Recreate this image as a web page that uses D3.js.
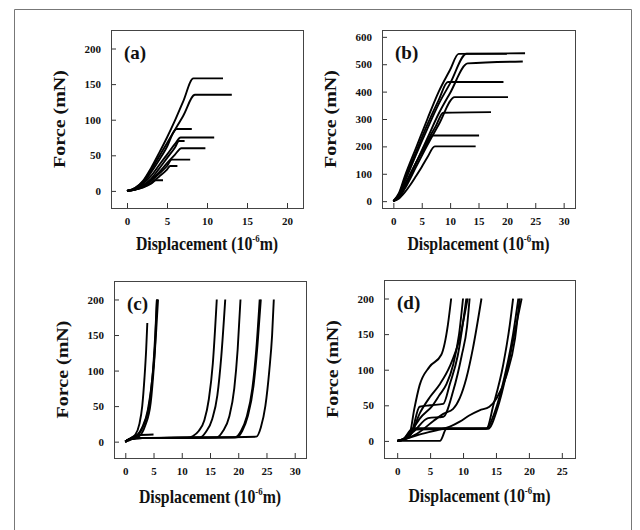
<!DOCTYPE html>
<html>
<head>
<meta charset="utf-8">
<script src="https://cdn.jsdelivr.net/npm/d3@7"></script>
<style>
  html, body { margin: 0; padding: 0; background: #fff; }
  svg { display: block; }
  text { font-family: "Liberation Serif", "DejaVu Serif", serif; font-weight: bold; fill: #111; }
</style>
</head>
<body>
<svg id="fig" width="640" height="530"></svg>
<script>
// Force–displacement curves, four panels. Each curve is a list of [displacement (1e-6 m), force (mN)].
const curvesA = [
  [[0,0],[1,4],[2,14],[3,32],[4,53],[5,75],[6,99],[7,125],[8.3,158],[12,158]],
  [[0,0],[1,4],[2,13],[3,29],[4,48],[5,67],[6,86],[7,105],[8.5,135],[13.1,135]],
  [[0,0],[1,3],[2,11],[3,26],[4,43],[5,62],[5.9,84],[6.2,87],[8.1,87]],
  [[0,0],[1,3],[2,10],[3,21],[4,36],[5,51],[6,66],[6.7,75],[10.9,75]],
  [[0,0],[1,3],[2,8],[3,17],[4,31],[5,46],[6,61],[6.5,70],[7.2,70]],
  [[0,0],[1,2],[2,7],[3,15],[4,26],[5,39],[6,51],[6.8,60],[9.8,60]],
  [[0,0],[1,2],[2,6],[3,14],[4,24],[5,35],[5.6,44],[7.9,44]],
  [[0,0],[1,2],[2,5],[3,11],[4,20],[5,30],[5.4,35],[6.3,35]],
  [[0,0],[1,2],[2,5],[3,10],[3.6,15],[4.5,15]]
];
const curvesB = [
  [[0,0],[1,30],[2,90],[4,195],[6,300],[8,400],[10,480],[11.5,538],[23.2,540]],
  [[0,0],[1,22],[2,70],[4,170],[6,265],[8,355],[10,430],[12.9,538],[20,538]],
  [[0,0],[1,15],[2,50],[4,140],[6,230],[8,320],[10,395],[13.1,503],[22.8,510]],
  [[0,0],[1,26],[2,80],[4,180],[6,280],[8,370],[9.6,435],[19.4,435]],
  [[0,0],[1,14],[2,45],[4,125],[6,205],[8,280],[10.8,380],[20.2,380]],
  [[0,0],[1,18],[2,55],[4,140],[6,220],[7.5,275],[8.8,323],[17.2,325]],
  [[0,0],[1,20],[2,60],[4,140],[5.5,195],[7,240],[15.1,240]],
  [[0,0],[1,10],[2,32],[3,60],[4,92],[5,125],[6,160],[7.3,200],[14.5,200]]
];
const curvesC = [
  [[0,0],[0.5,3],[1,5],[1.8,10],[2.5,25],[3,50],[3.4,90],[3.7,130],[3.9,167]],
  [[0,0],[1,4],[2,8],[3,20],[4,45],[4.8,90],[5.3,140],[5.6,200]],
  [[0,0],[1,3],[2.5,8],[3.5,22],[4.5,55],[5.1,110],[5.5,160],[5.8,200]],
  [[0,0],[1,4],[2.2,9],[3.3,24],[4.3,55],[4.9,100],[5.3,150],[5.6,200]],
  [[0,0],[1,5],[2,9],[5,10]],
  [[0,0],[0.8,4],[2,5],[11,5.5],[12,8],[13,15],[14,30],[14.8,60],[15.5,110],[16.2,200]],
  [[0,0],[0.8,4],[2,5],[13.2,6],[14.3,14],[15.4,32],[16.3,65],[17,120],[17.7,200]],
  [[0,0],[1,4],[3,5],[16.2,6],[17.3,15],[18.4,35],[19.3,75],[19.9,130],[20.4,200]],
  [[0,0],[1,4],[3,5],[19.4,6],[20.5,15],[21.5,35],[22.5,75],[23.2,130],[23.8,200]],
  [[0,0],[1,4],[3,5],[19.7,6],[20.7,15],[21.7,36],[22.7,78],[23.4,135],[24.0,200]],
  [[0,0],[1,4],[3,5],[23.2,7],[24,20],[24.8,50],[25.5,100],[26,150],[26.3,200]]
];
const curvesD = [
  [[0,0],[1,3],[1.9,10],[2.6,45],[3.4,78],[4.9,104],[6.7,121],[7.7,163],[8.2,200]],
  [[0,0],[1,3],[2.4,17],[3.4,31],[5.4,50],[6.4,64],[7.5,80],[8.5,107],[9.4,150],[10,200]],
  [[0,0],[1,2],[2.2,12],[3.4,48],[5,50],[7,52],[8,80],[9.2,120],[10.5,200]],
  [[0,0],[1,2],[2.6,14],[4.7,32],[7,34],[8.5,70],[9.8,120],[10.6,160],[11,200]],
  [[0,0],[1,2],[2,8],[3.5,40],[5,62],[6.5,80],[8,105],[9.5,145],[10.7,200]],
  [[0,0],[1,2],[3,10],[5.5,28],[7,38],[8.5,45],[9.5,60],[10.5,88],[11.5,130],[12.8,200]],
  [[0,0],[1,3],[2,15],[2.5,18],[13.6,18],[14.6,50],[16.1,107],[17.1,163],[17.6,200]],
  [[0,0],[1,2],[3,8],[6,15],[8,20],[9.5,27],[11,36],[12.5,43],[14,48],[15.1,60],[16.6,92],[17.9,144],[18.6,200]],
  [[0,0],[6.5,0],[7.5,17],[13.5,17],[14.8,40],[16.3,90],[17.6,150],[18.4,200]],
  [[0,0],[1,3],[2.5,16],[13.8,17],[15.2,45],[16.6,95],[17.9,155],[18.9,200]]
];

// Axis ticks per panel
const ticksAX = [0, 5, 10, 15, 20];
const ticksAY = [0, 50, 100, 150, 200];
const ticksBX = [0, 5, 10, 15, 20, 25, 30];
const ticksBY = [0, 100, 200, 300, 400, 500, 600];
const ticksCX = [0, 5, 10, 15, 20, 25, 30];
const ticksCY = [0, 50, 100, 150, 200];
const ticksDX = [0, 5, 10, 15, 20, 25];
const ticksDY = [0, 50, 100, 150, 200];

const panelLabels = ["(a)", "(b)", "(c)", "(d)"];

const panels = [
  { label: panelLabels[0], curves: curvesA, tx: ticksAX, ty: ticksAY,
    box: [111, 30, 303, 208], xd: [-2, 22], yd: [-24, 226], titleDy: 42 },
  { label: panelLabels[1], curves: curvesB, tx: ticksBX, ty: ticksBY,
    box: [382, 30, 575, 208], xd: [-2, 32], yd: [-25, 625], titleDy: 42 },
  { label: panelLabels[2], curves: curvesC, tx: ticksCX, ty: ticksCY,
    box: [114, 281, 306, 458], xd: [-2, 32], yd: [-23, 226], titleDy: 45 },
  { label: panelLabels[3], curves: curvesD, tx: ticksDX, ty: ticksDY,
    box: [384, 280, 575, 458], xd: [-2, 27], yd: [-24, 226], titleDy: 44 }
];

const svg = d3.select("#fig");

// outer figure border
const border = svg.append("g").attr("stroke", "#777").attr("stroke-width", 1);
border.append("line").attr("x1", 14.5).attr("y1", 9.5).attr("x2", 631.5).attr("y2", 9.5);
border.append("line").attr("x1", 14.5).attr("y1", 9.5).attr("x2", 14.5).attr("y2", 530);
border.append("line").attr("x1", 631.5).attr("y1", 9.5).attr("x2", 631.5).attr("y2", 530);

panels.forEach((p, i) => {
  const [x0, y0, x1, y1] = p.box;
  const x = d3.scaleLinear().domain(p.xd).range([x0, x1]);
  const y = d3.scaleLinear().domain(p.yd).range([y1, y0]);
  const g = svg.append("g");

  const clipId = "clip" + i;
  svg.append("clipPath").attr("id", clipId)
    .append("rect").attr("x", x0).attr("y", y0).attr("width", x1 - x0).attr("height", y1 - y0);

  // curves
  const line = d3.line().x(d => x(d[0])).y(d => y(d[1])).curve(d3.curveMonotoneX);
  g.append("g").attr("clip-path", `url(#${clipId})`)
    .selectAll("path").data(p.curves).join("path")
    .attr("d", line)
    .attr("fill", "none")
    .attr("stroke", "#000")
    .attr("stroke-width", 1.9)
    .attr("stroke-linejoin", "round");

  // bottom axis: inward ticks
  const xAxis = d3.axisBottom(x).tickValues(p.tx).tickSize(-5).tickPadding(9);
  const gx = g.append("g").attr("transform", `translate(0,${y1})`).call(xAxis)
    .attr("font-family", null);
  gx.select(".domain").remove();
  gx.selectAll("line").attr("stroke", "#333");
  gx.selectAll("text").attr("font-size", 11).attr("fill", "#111");

  // left axis: inward ticks
  const yAxis = d3.axisLeft(y).tickValues(p.ty).tickSize(-5).tickPadding(10);
  const gy = g.append("g").attr("transform", `translate(${x0},0)`).call(yAxis)
    .attr("font-family", null);
  gy.select(".domain").remove();
  gy.selectAll("line").attr("stroke", "#333");
  gy.selectAll("text").attr("font-size", 11).attr("fill", "#111");

  // frame
  g.append("rect").attr("x", x0 + 0.5).attr("y", y0 + 0.5)
    .attr("width", x1 - x0).attr("height", y1 - y0)
    .attr("fill", "none").attr("stroke", "#444").attr("stroke-width", 1);

  // panel label
  g.append("text").attr("x", x0 + 13).attr("y", y0 + 29)
    .attr("font-size", 19).text(p.label);

  // axis titles
  const xt = g.append("text")
    .attr("transform", `translate(${(x0 + x1) / 2},${y1 + p.titleDy}) scale(0.88,1)`)
    .attr("text-anchor", "middle").attr("font-size", 18);
  xt.append("tspan").text("Displacement (10");
  xt.append("tspan").attr("font-size", 10).attr("dy", -8).text("-6");
  xt.append("tspan").attr("dy", 8).text("m)");

  g.append("text")
    .attr("transform", `translate(${x0 - 46},${(y0 + y1) / 2}) rotate(-90) scale(1,0.88)`)
    .attr("text-anchor", "middle").attr("font-size", 20).text("Force (mN)");
});
</script>
</body>
</html>
